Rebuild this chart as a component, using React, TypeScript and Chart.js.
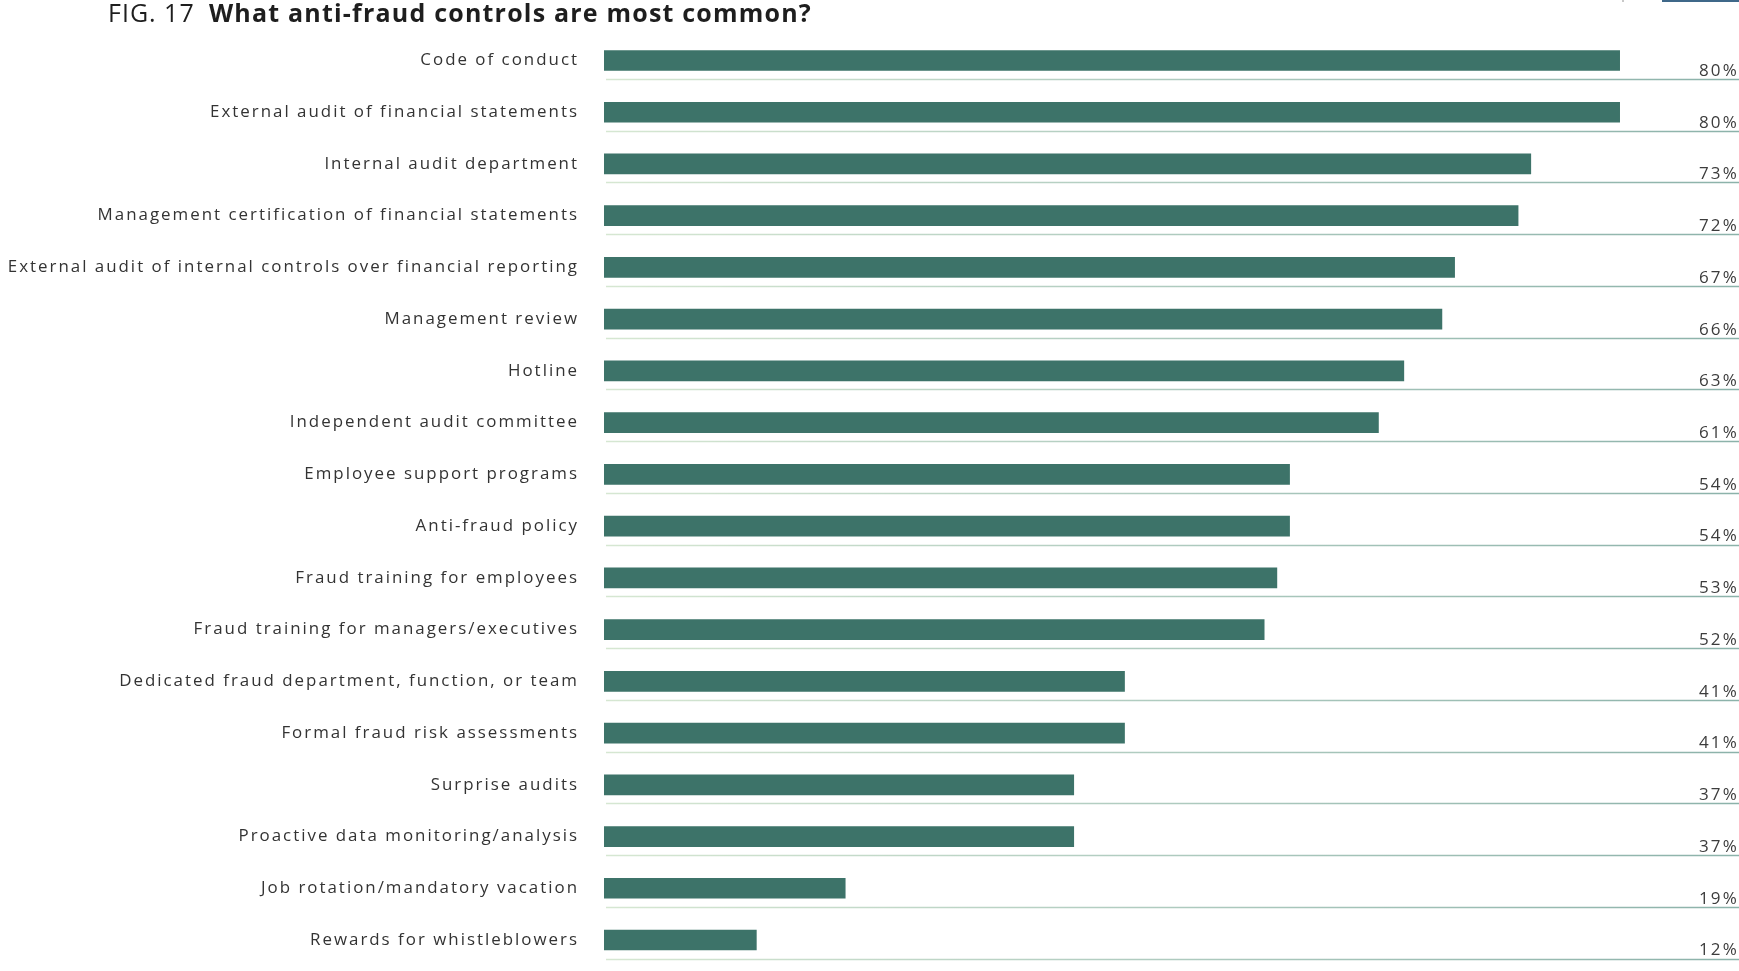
import React, { useEffect, useRef } from "react";
import { Chart, registerables } from "chart.js";

Chart.register(...registerables);

const categories = [
  "Code of conduct",
  "External audit of financial statements",
  "Internal audit department",
  "Management certification of financial statements",
  "External audit of internal controls over financial reporting",
  "Management review",
  "Hotline",
  "Independent audit committee",
  "Employee support programs",
  "Anti-fraud policy",
  "Fraud training for employees",
  "Fraud training for managers/executives",
  "Dedicated fraud department, function, or team",
  "Formal fraud risk assessments",
  "Surprise audits",
  "Proactive data monitoring/analysis",
  "Job rotation/mandatory vacation",
  "Rewards for whistleblowers",
];

const values = [80, 80, 73, 72, 67, 66, 63, 61, 54, 54, 53, 52, 41, 41, 37, 37, 19, 12];

const valueLabels = values.map((v) => `${v}%`);

const titlePrefix = "FIG. 17";
const titleMain = "What anti-fraud controls are most common?";

const BAR_COLOR = "#3d7369";
const FONT = "'Open Sans', 'DejaVu Sans', sans-serif";

const decorPlugin = {
  id: "decor",
  beforeDraw(chart: any) {
    const ctx = chart.ctx;
    (ctx as any).letterSpacing = "2px";
  },
  afterDraw(chart: any) {
    const ctx = chart.ctx as CanvasRenderingContext2D;
    const yScale = chart.scales.y;
    const xScale = chart.scales.x;
    const W = chart.width;
    ctx.save();
    // underlines
    const x0 = xScale.getPixelForValue(0) + 2;
    const grad = ctx.createLinearGradient(x0, 0, W, 0);
    grad.addColorStop(0, "#d6e7d2");
    grad.addColorStop(0.45, "#b2cdc1");
    grad.addColorStop(1, "#8cb2aa");
    ctx.strokeStyle = grad;
    ctx.lineWidth = 1.6;
    categories.forEach((_, i) => {
      const y = Math.round(yScale.getPixelForValue(i) + 18.5) + 0.5;
      ctx.beginPath();
      ctx.moveTo(x0, y);
      ctx.lineTo(W, y);
      ctx.stroke();
    });
    // value labels
    (ctx as any).letterSpacing = "2.2px";
    ctx.font = `17px ${FONT}`;
    ctx.fillStyle = "#3c3c3c";
    ctx.textAlign = "right";
    ctx.textBaseline = "middle";
    valueLabels.forEach((t, i) => {
      const y = yScale.getPixelForValue(i) + 10.5;
      ctx.fillText(t, W, y);
    });
    // title
    (ctx as any).letterSpacing = "1px";
    ctx.textAlign = "left";
    ctx.textBaseline = "alphabetic";
    ctx.fillStyle = "#1e1e1e";
    ctx.font = `25px ${FONT}`;
    ctx.fillText(titlePrefix, 108, 22);
    (ctx as any).letterSpacing = "1.2px";
    ctx.font = `bold 25px ${FONT}`;
    ctx.fillText(titleMain, 209, 22);
    // small page-edge marks at top right
    ctx.fillStyle = "#3f6889";
    ctx.fillRect(1662, 0, W - 1662, 2);
    ctx.fillStyle = "#c8c8c8";
    ctx.fillRect(1622, 0, 2, 2);
    ctx.restore();
  },
};

export default function App() {
  const ref = useRef<HTMLCanvasElement | null>(null);
  useEffect(() => {
    if (!ref.current) return;
    const chart = new Chart(ref.current, {
      type: "bar",
      data: {
        labels: categories,
        datasets: [
          {
            data: values,
            backgroundColor: BAR_COLOR,
            borderWidth: 0,
            barThickness: 20,
          },
        ],
      },
      options: {
        indexAxis: "y",
        animation: false,
        responsive: false,
        maintainAspectRatio: false,
        devicePixelRatio: 1,
        layout: { padding: { top: 34.6, bottom: 5.1, left: 0, right: 0 } },
        plugins: {
          legend: { display: false },
          title: { display: false },
          tooltip: { enabled: false },
        },
        scales: {
          x: {
            display: false,
            min: 0,
            max: 89.4,
          },
          y: {
            afterFit(scale: any) {
              scale.width = 604;
              scale.paddingTop = 0;
              scale.paddingBottom = 0;
            },
            grid: { display: false, drawTicks: false },
            border: { display: false },
            ticks: {
              padding: 25,
              color: "#333333",
              font: { family: FONT, size: 16.9 },
            },
          },
        },
      },
      plugins: [decorPlugin],
    });
    return () => chart.destroy();
  }, []);
  return (
    <div style={{ position: "fixed", left: 0, top: 0, width: 1739, height: 971, background: "#fff" }}>
      <canvas ref={ref} width={1739} height={971} style={{ display: "block", width: 1739, height: 971 }} />
    </div>
  );
}
